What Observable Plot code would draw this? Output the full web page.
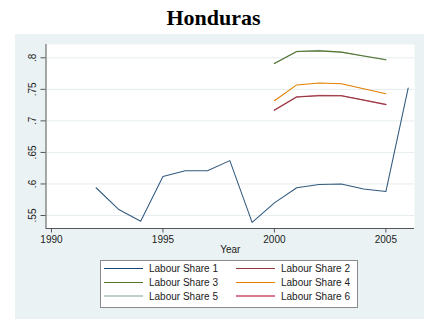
<!DOCTYPE html>
<html>
<head>
<meta charset="utf-8">
<script src="https://cdn.jsdelivr.net/npm/d3@7"></script>
<script src="https://cdn.jsdelivr.net/npm/@observablehq/plot@0.6"></script>
<style>
  html, body { margin: 0; padding: 0; background: #ffffff; }
  #root { position: relative; width: 427px; height: 323px; font-family: "Liberation Sans", Arial, sans-serif; }
  #title { position: absolute; left: 0; top: 0; width: 427px; height: 34px; text-align: center;
           font-family: "Liberation Serif", "Times New Roman", serif; font-weight: bold; font-size: 22px; line-height: 36px; color: #000; }
  #panel { position: absolute; left: 15px; top: 34px; width: 409px; height: 285px; background: #eaf2f3; }
  #chart { position: absolute; left: 0; top: 0; }
  #legend { position: absolute; left: 85px; top: 226px; width: 256px; height: 45px; background: #fff; border: 1px solid #8a8a8a;
            box-sizing: content-box; display: grid; grid-template-columns: 132px 124px; grid-auto-rows: 13.8px; padding-top: 1px; }
  .item { display: flex; align-items: center; padding-left: 3px; font-size: 10px; color: #222; white-space: nowrap; }
  .sw { display: inline-block; width: 39px; margin-right: 6px; }
</style>
</head>
<body>
<div id="root">
  <div id="title">Honduras</div>
  <div id="panel">
    <div id="chart"></div>
    <div id="legend"></div>
  </div>
</div>
<script>
// ---- data ----
const years1 = [1992, 1993, 1994, 1995, 1996, 1997, 1998, 1999, 2000, 2001, 2002, 2003, 2004, 2005, 2006];
const share1 = [0.594, 0.560, 0.541, 0.612, 0.621, 0.621, 0.637, 0.539, 0.570, 0.594, 0.599, 0.600, 0.592, 0.588, 0.752];
const years2 = [2000, 2001, 2002, 2003, 2004, 2005];
const share2 = [0.717, 0.738, 0.740, 0.740, 0.733, 0.726];
const share3 = [0.791, 0.810, 0.811, 0.809, 0.803, 0.797];
const share4 = [0.732, 0.757, 0.760, 0.759, 0.751, 0.743];
const share5 = [0.791, 0.810, 0.8115, 0.809, 0.803, 0.797];
const share6 = [0.717, 0.738, 0.7405, 0.740, 0.733, 0.726];
const seriesNames = ["Labour Share 1", "Labour Share 2", "Labour Share 3", "Labour Share 4", "Labour Share 5", "Labour Share 6"];
const seriesColors = ["#1a476f", "#90353b", "#55752f", "#e37e00", "#bccfc9", "#d8798f"];
const xTicks = [1990, 1995, 2000, 2005];
const yTicks = [0.55, 0.6, 0.65, 0.7, 0.75, 0.8];
const yTickLabels = [".55", ".6", ".65", ".7", ".75", ".8"];
const xTitle = "Year";

// ---- build ----
const series = [
  {x: years1, y: share1},
  {x: years2, y: share2},
  {x: years2, y: share3},
  {x: years2, y: share4},
  {x: years2, y: share5},
  {x: years2, y: share6}
].map((s, i) => s.x.map((yr, j) => ({year: yr, value: s.y[j], name: seriesNames[i]})));

const drawOrder = [4, 5, 0, 1, 2, 3];
const xDomain = [1989.754, 2006.284];
const yDomain = [0.5294, 0.8211];

const chart = Plot.plot({
  width: 409,
  height: 222,
  marginLeft: 30.5,
  marginRight: 10,
  marginTop: 10,
  marginBottom: 28,
  style: {background: "transparent", fontFamily: "Liberation Sans, Arial, sans-serif"},
  x: {domain: xDomain, axis: null},
  y: {domain: yDomain, axis: null},
  marks: [
    Plot.frame({fill: "#ffffff", stroke: null}),
    Plot.ruleY(yTicks, {stroke: "#e6edef", strokeWidth: 1}),
    ...drawOrder.map(i => Plot.line(series[i], {x: "year", y: "value", stroke: seriesColors[i], strokeWidth: i >= 4 ? 1.4 : 1.05, strokeOpacity: i === 0 ? 0.9 : 1})),
    Plot.ruleX([xDomain[0]], {stroke: "#555", strokeWidth: 1}),
    Plot.ruleY([yDomain[0]], {stroke: "#555", strokeWidth: 1}),
    Plot.axisX({ticks: xTicks, tickSize: 4.5, tickPadding: 3, tickFormat: d => String(d), fontSize: 10, stroke: "#555", fill: "#222", label: null}),
    Plot.axisY({ticks: yTicks, tickSize: 5, tickFormat: () => "", stroke: "#555", label: null}),
    Plot.text(yTicks, {y: d => d, text: yTickLabels, frameAnchor: "left", dx: -12.8, rotate: -90, textAnchor: "middle", lineAnchor: "middle", fontSize: 10, fill: "#222"}),
    Plot.text([xTitle], {frameAnchor: "bottom", dy: 21, text: d => d, textAnchor: "middle", lineAnchor: "middle", fontSize: 10, fill: "#222"})
  ]
});
document.getElementById("chart").appendChild(chart);

// ---- legend ----
const legend = document.getElementById("legend");
seriesNames.forEach((name, i) => {
  const item = document.createElement("div");
  item.className = "item";
  const sw = document.createElement("span");
  sw.className = "sw";
  sw.style.borderTop = (i >= 4 ? 2 : 1.3) + "px solid " + seriesColors[i];
  item.appendChild(sw);
  item.appendChild(document.createTextNode(name));
  legend.appendChild(item);
});
</script>
</body>
</html>
